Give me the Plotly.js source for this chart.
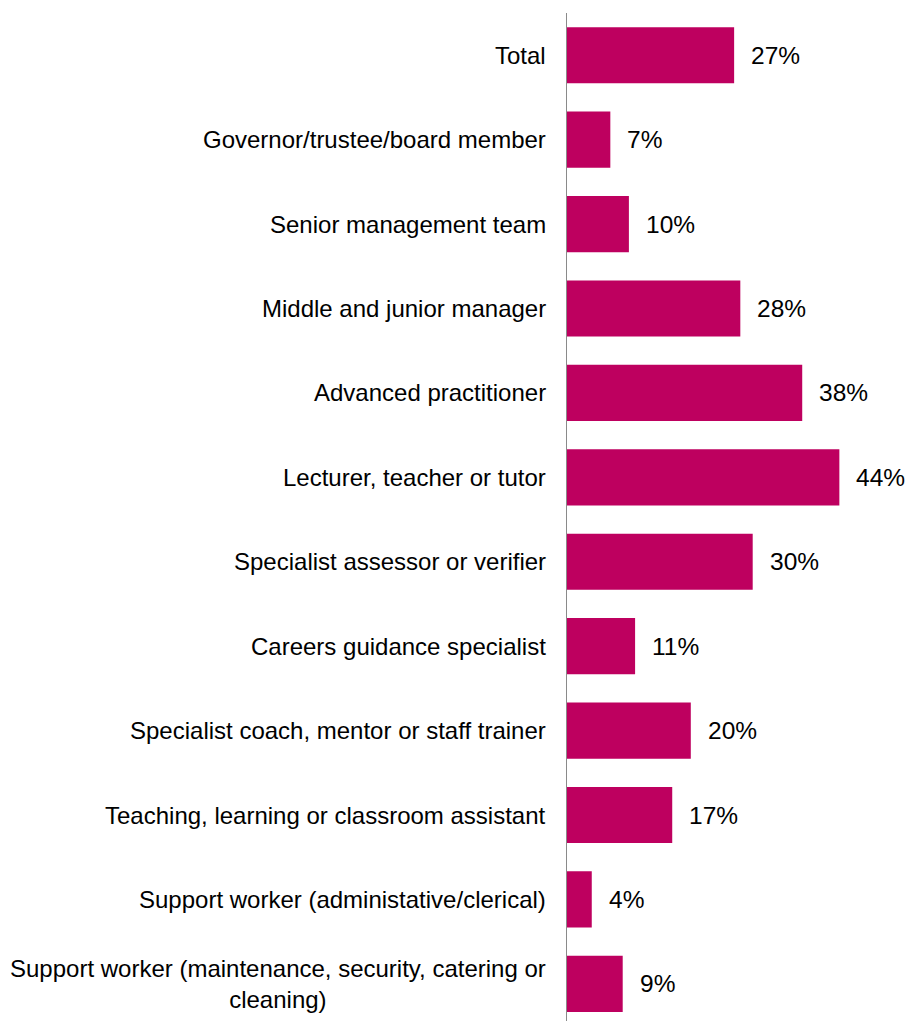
<!DOCTYPE html>
<html>
<head>
<meta charset="utf-8">
<script src="https://cdn.plot.ly/plotly-3.0.1.min.js"></script>
<style>html,body{margin:0;padding:0;background:#fff;}</style>
</head>
<body>
<div id="chart" style="width:909px;height:1021px;"></div>
<script>
const categories = [
  "Total",
  "Governor/trustee/board member",
  "Senior management team",
  "Middle and junior manager",
  "Advanced practitioner",
  "Lecturer, teacher or tutor",
  "Specialist assessor or verifier",
  "Careers guidance specialist",
  "Specialist coach, mentor or staff trainer",
  "Teaching, learning or classroom assistant",
  "Support worker (administative/clerical)",
  "Support worker (maintenance, security, catering or<br>cleaning)"
];
const values = [27, 7, 10, 28, 38, 44, 30, 11, 20, 17, 4, 9];
const valueLabels = ["27%", "7%", "10%", "28%", "38%", "44%", "30%", "11%", "20%", "17%", "4%", "9%"];

const FONT = "Liberation Sans, Arial, sans-serif";
const idx = categories.map((c, i) => i);

const trace = {
  type: "bar",
  orientation: "h",
  x: values,
  y: idx,
  marker: { color: "#BE005F" },
  width: 0.665,
  hoverinfo: "skip"
};

const annotations = [];
categories.forEach((c, i) => {
  annotations.push({
    xref: "paper", yref: "y", x: 0, y: i,
    xanchor: "right", yanchor: "middle", align: "center",
    xshift: -19,
    text: c, showarrow: false,
    font: { family: FONT, size: 24, color: "#000" }
  });
  annotations.push({
    xref: "x", yref: "y", x: values[i], y: i,
    xanchor: "left", yanchor: "middle",
    xshift: 15,
    text: valueLabels[i], showarrow: false,
    font: { family: FONT, size: 24.5, color: "#000" }
  });
});

const layout = {
  width: 909, height: 1021,
  margin: { l: 567, r: 0, t: 13, b: 0 },
  paper_bgcolor: "#fff", plot_bgcolor: "#fff",
  showlegend: false,
  xaxis: { range: [0, 55.25], visible: false, fixedrange: true },
  yaxis: {
    range: [11.44, -0.5],
    showticklabels: false, ticks: "",
    showgrid: false, zeroline: false,
    showline: true, linecolor: "#8a8a8a", linewidth: 1.3,
    fixedrange: true
  },
  annotations: annotations,
  font: { family: FONT }
};

Plotly.newPlot("chart", [trace], layout, { displayModeBar: false, staticPlot: true });
</script>
</body>
</html>
